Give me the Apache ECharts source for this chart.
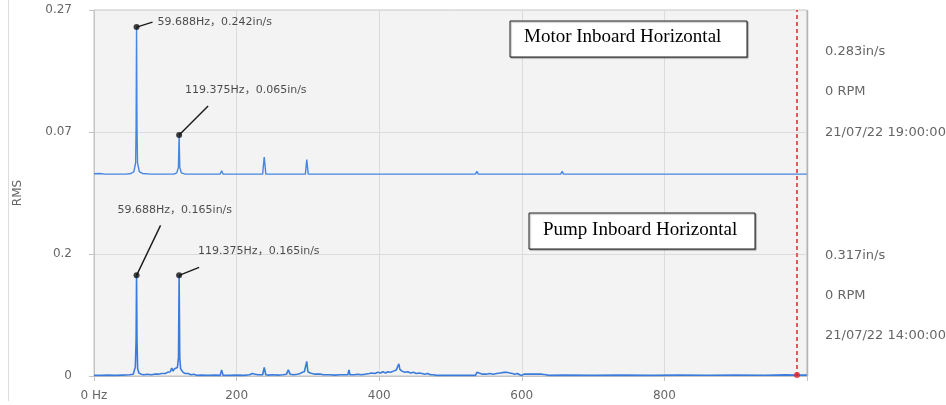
<!DOCTYPE html>
<html>
<head>
<meta charset="utf-8">
<script src="https://cdn.jsdelivr.net/npm/echarts@6/dist/echarts.min.js"></script>
<style>
  html, body { margin: 0; padding: 0; background: #ffffff; }
  #chart { width: 946px; height: 405px; }
</style>
</head>
<body>
<div id="chart"></div>
<script>
// ---------------- DATA ----------------
// frequency axis ticks (Hz)
const xTicks = [0, 200, 400, 600, 800, 1000];
// left tick labels (lower trace: 0, 0.2 ; upper trace: 0.07, 0.27)
const yTickLabels = ['0', '0.2', '0.07', '0.27'];
// vertical offset of the upper trace on the shared RMS axis
const upperOffset = 0.33;

// Motor Inboard Horizontal spectrum [Hz, in/s]
const motorSpectrum = [
  [0, 0.0015], [2, 0.003], [8, 0.002], [15, 0.001], [45, 0.001], [52, 0.002], [56, 0.005],
  [58.4, 0.02], [59.06, 0.08], [59.688, 0.242], [60.3, 0.08], [61, 0.02], [63.5, 0.005],
  [68, 0.002], [80, 0.001], [112, 0.001], [116, 0.003], [118.4, 0.012], [119.375, 0.065],
  [120.3, 0.012], [122.5, 0.003], [128, 0.001], [177, 0.001], [179, 0.0066], [181, 0.001],
  [236.5, 0.001], [238.75, 0.029], [241, 0.001], [296.5, 0.001], [298.4, 0.025], [300.5, 0.001],
  [357, 0.001], [358.1, 0.0025], [359.5, 0.001], [416, 0.001], [417.8, 0.0025], [419.5, 0.001],
  [476, 0.001], [477.5, 0.0025], [479, 0.001], [535, 0.001], [537, 0.0055], [539, 0.001],
  [596, 0.001], [597, 0.003], [598.5, 0.001], [654.5, 0.001], [656.6, 0.0055], [658.5, 0.001],
  [715.5, 0.001], [717, 0.003], [718.5, 0.001], [776, 0.001], [777, 0.002], [778.5, 0.001],
  [835, 0.001], [836, 0.002], [837.5, 0.001], [1000, 0.001]
];

// Pump Inboard Horizontal spectrum [Hz, in/s]
const pumpSpectrum = [
  [0, 0.001], [10, 0.001], [20, 0.0015], [30, 0.001], [40, 0.0015], [50, 0.002], [55, 0.003],
  [58, 0.015], [59.06, 0.06], [59.688, 0.165], [60.3, 0.06], [61.2, 0.012], [63, 0.005],
  [66, 0.003], [70, 0.002], [75, 0.003], [80, 0.002], [85, 0.003], [90, 0.003], [95, 0.004],
  [100, 0.004], [103, 0.006], [105, 0.009], [107, 0.007], [109, 0.013], [111, 0.008],
  [113, 0.012], [115, 0.009], [117, 0.014], [118.5, 0.03], [119.375, 0.165], [120.3, 0.03],
  [121.5, 0.012], [123, 0.009], [125, 0.006], [128, 0.004], [132, 0.004], [136, 0.002],
  [140, 0.003], [145, 0.001], [150, 0.0015], [160, 0.001], [170, 0.0015], [177, 0.001],
  [179, 0.01], [181, 0.001], [190, 0.001], [200, 0.0015], [210, 0.001], [218, 0.002],
  [222, 0.004], [224, 0.007], [226, 0.003], [230, 0.002], [236.5, 0.002], [238.75, 0.014],
  [241, 0.002], [245, 0.0015], [250, 0.002], [258, 0.0015], [265, 0.002], [270, 0.003],
  [272.5, 0.01], [275, 0.003], [280, 0.002], [285, 0.003], [289, 0.004], [292, 0.006],
  [295, 0.007], [297, 0.009], [298.4, 0.024], [300, 0.007], [303, 0.005], [306, 0.004],
  [310, 0.003], [314, 0.003], [316, 0.005], [318, 0.003], [322, 0.002], [330, 0.002],
  [338, 0.0015], [345, 0.002], [352, 0.002], [356, 0.002], [357.6, 0.01], [359, 0.002],
  [365, 0.002], [370, 0.003], [375, 0.002], [380, 0.003], [386, 0.004], [390, 0.005],
  [394, 0.004], [398, 0.006], [402, 0.005], [405, 0.007], [409, 0.005], [412, 0.007],
  [416, 0.006], [420, 0.008], [424, 0.01], [426, 0.012], [427.5, 0.02], [429, 0.011],
  [432, 0.008], [436, 0.006], [440, 0.007], [444, 0.005], [448, 0.006], [452, 0.004],
  [456, 0.005], [460, 0.004], [464, 0.003], [468, 0.004], [472, 0.002], [476, 0.002],
  [480, 0.001], [500, 0.001], [520, 0.001], [535, 0.001], [537, 0.006], [539, 0.003],
  [545, 0.003], [550, 0.003], [555, 0.004], [560, 0.003], [565, 0.004], [570, 0.005],
  [575, 0.006], [577, 0.008], [579, 0.006], [583, 0.005], [587, 0.004], [590, 0.003],
  [594, 0.004], [597, 0.002], [600, 0.001], [603, 0.003], [608, 0.003], [613, 0.003],
  [618, 0.003], [623, 0.003], [628, 0.003], [634, 0.002], [638, 0.001], [660, 0.0015],
  [700, 0.001], [740, 0.0015], [780, 0.001], [820, 0.0015], [860, 0.0012], [900, 0.0015],
  [940, 0.0012], [970, 0.0018], [986, 0.0015], [1000, 0.0015]
];

// annotated peaks [Hz, in/s]
const motorPeaks = [[59.688, 0.242], [119.375, 0.065]];
const pumpPeaks = [[59.688, 0.165], [119.375, 0.165]];

// cursor
const cursorPoint = [986, 0.0015];

// side info texts
const motorInfo = ['0.283in/s', '0 RPM', '21/07/22 19:00:00'];
const pumpInfo = ['0.317in/s', '0 RPM', '21/07/22 14:00:00'];
const motorTitle = 'Motor Inboard Horizontal';
const pumpTitle = 'Pump Inboard Horizontal';

// ---------------- STYLE / LAYOUT ----------------
// label text offset (tx, ty) and leader-line end offset (lx, ly), in px from the peak dot
const motorLabelPos = [ {tx: 21, ty: -5, lx: 16, ly: -5}, {tx: 6, ty: -45, lx: 29, ly: -29} ];
const pumpLabelPos  = [ {tx: -19, ty: -65, lx: 24, ly: -50}, {tx: 19, ty: -24, lx: 20, ly: -8} ];

function peakLayout(pos) {
  return function (p) {
    const o = pos[p.dataIndex];
    const cx = p.rect.x + p.rect.width / 2;
    const cy = p.rect.y + p.rect.height / 2;
    return { x: cx + o.tx, y: cy + o.ty, align: 'left', verticalAlign: 'middle' };
  };
}
function leaderRender(pos) {
  return function (params, api) {
    const o = pos[params.dataIndex];
    const pt = api.coord([api.value(0), api.value(1)]);
    return {
      type: 'line',
      shape: { x1: pt[0], y1: pt[1], x2: pt[0] + o.lx, y2: pt[1] + o.ly },
      style: { stroke: '#1a1a1a', lineWidth: 1.4 }
    };
  };
}
const peakLabel = {
  show: true,
  formatter: p => p.value[0] + 'Hz，' + p.value[1] + 'in/s',
  fontFamily: '"DejaVu Sans", "Noto Sans CJK SC", sans-serif',
  fontSize: 11,
  color: '#1e1e1e'
};

const infoX = 825;
const infoStyle = { fill: '#666', font: '13px "DejaVu Sans", sans-serif' };
function infoTexts(list, ys) {
  return list.map((t, i) => ({
    type: 'text', left: infoX, top: ys[i] - 8,
    style: Object.assign({ text: t }, infoStyle)
  }));
}

const chart = echarts.init(document.getElementById('chart'), null, { renderer: 'canvas' });

const option = {
  animation: false,
  backgroundColor: '#ffffff',
  grid: {
    left: 94, right: 139, top: 10, bottom: 29,
    show: true, backgroundColor: '#f3f3f3', borderColor: '#c4c4c4', borderWidth: 1
  },
  xAxis: {
    type: 'value', min: xTicks[0], max: xTicks[xTicks.length - 1], interval: 200,
    axisLine: { show: true, lineStyle: { color: '#c4c4c4' } },
    axisTick: { show: true, length: 5, lineStyle: { color: '#c4c4c4' } },
    splitLine: { show: true, lineStyle: { color: '#dcdcdc' } },
    axisLabel: {
      color: '#666', fontSize: 12, margin: 14,
      fontFamily: '"DejaVu Sans", sans-serif',
      formatter: v => (v === 0 ? '0 Hz' : (v === 1000 ? '' : String(v)))
    }
  },
  yAxis: [
    {
      type: 'value', min: 0, max: 0.6, interval: 0.2,
      name: 'RMS', nameLocation: 'middle', nameGap: 70,
      nameTextStyle: { color: '#666', fontSize: 12, fontFamily: '"DejaVu Sans", sans-serif' },
      axisLine: { show: true, lineStyle: { color: '#c4c4c4' } },
      axisTick: { show: true, length: 5, lineStyle: { color: '#c4c4c4' } },
      splitLine: { show: true, lineStyle: { color: '#dcdcdc' } },
      axisLabel: {
        color: '#666', fontSize: 12, margin: 22,
        fontFamily: '"DejaVu Sans", sans-serif',
        formatter: (v, i) => yTickLabels[i] !== undefined ? yTickLabels[i] : ''
      }
    },
    {
      type: 'value', min: -upperOffset, max: 0.6 - upperOffset, show: false,
      splitLine: { show: false }
    }
  ],
  graphic: [
    { type: 'line', shape: { x1: 8.5, y1: 0, x2: 8.5, y2: 401 }, style: { stroke: '#dddddd', lineWidth: 1 } },
    { type: 'line', shape: { x1: 807.5, y1: 10, x2: 807.5, y2: 376 }, style: { stroke: '#b4b4b4', lineWidth: 1.5 }, z: 50 },
    { type: 'rect', shape: { x: 510, y: 21, width: 237, height: 36 },
      style: { fill: '#ffffff', stroke: '#222', lineWidth: 1, shadowColor: 'rgba(0,0,0,0.35)', shadowOffsetX: 1, shadowOffsetY: 1, shadowBlur: 1 }, z: 100 },
    { type: 'text', left: 524, top: 28, z: 101,
      style: { text: motorTitle, fill: '#000', font: '19px "Liberation Serif", "Times New Roman", serif' } },
    { type: 'rect', shape: { x: 529, y: 213, width: 226, height: 36 },
      style: { fill: '#ffffff', stroke: '#222', lineWidth: 1, shadowColor: 'rgba(0,0,0,0.35)', shadowOffsetX: 1, shadowOffsetY: 1, shadowBlur: 1 }, z: 100 },
    { type: 'text', left: 543, top: 221, z: 101,
      style: { text: pumpTitle, fill: '#000', font: '19px "Liberation Serif", "Times New Roman", serif' } }
  ].concat(infoTexts(motorInfo, [53, 93, 134])).concat(infoTexts(pumpInfo, [257, 297, 337])),
  series: [
    {
      name: 'Pump', type: 'line', xAxisIndex: 0, yAxisIndex: 0,
      data: pumpSpectrum, showSymbol: false, symbol: 'none',
      lineStyle: { color: '#3a7cdc', width: 1.6 },
      z: 3,
      markLine: {
        silent: true, symbol: 'none', label: { show: false },
        lineStyle: { color: '#e3262b', type: [4, 3], width: 1.5 },
        data: [{ xAxis: cursorPoint[0] }]
      }
    },
    {
      name: 'Motor', type: 'line', xAxisIndex: 0, yAxisIndex: 1,
      data: motorSpectrum, showSymbol: false, symbol: 'none',
      lineStyle: { color: '#4686e0', width: 1.4 },
      z: 3
    },
    {
      name: 'MotorLeaders', type: 'custom', yAxisIndex: 1, data: motorPeaks,
      renderItem: leaderRender(motorLabelPos), z: 9, silent: true
    },
    {
      name: 'PumpLeaders', type: 'custom', yAxisIndex: 0, data: pumpPeaks,
      renderItem: leaderRender(pumpLabelPos), z: 9, silent: true
    },
    {
      name: 'MotorPeaks', type: 'scatter', yAxisIndex: 1, data: motorPeaks,
      symbolSize: 6, itemStyle: { color: '#111' }, z: 10,
      label: peakLabel, labelLayout: peakLayout(motorLabelPos)
    },
    {
      name: 'PumpPeaks', type: 'scatter', yAxisIndex: 0, data: pumpPeaks,
      symbolSize: 6, itemStyle: { color: '#111' }, z: 10,
      label: peakLabel, labelLayout: peakLayout(pumpLabelPos)
    },
    {
      name: 'Cursor', type: 'scatter', yAxisIndex: 0, data: [cursorPoint],
      symbol: 'circle', symbolSize: 6, itemStyle: { color: '#e3262b' }, z: 11
    }
  ]
};
chart.setOption(option);
</script>
</body>
</html>
